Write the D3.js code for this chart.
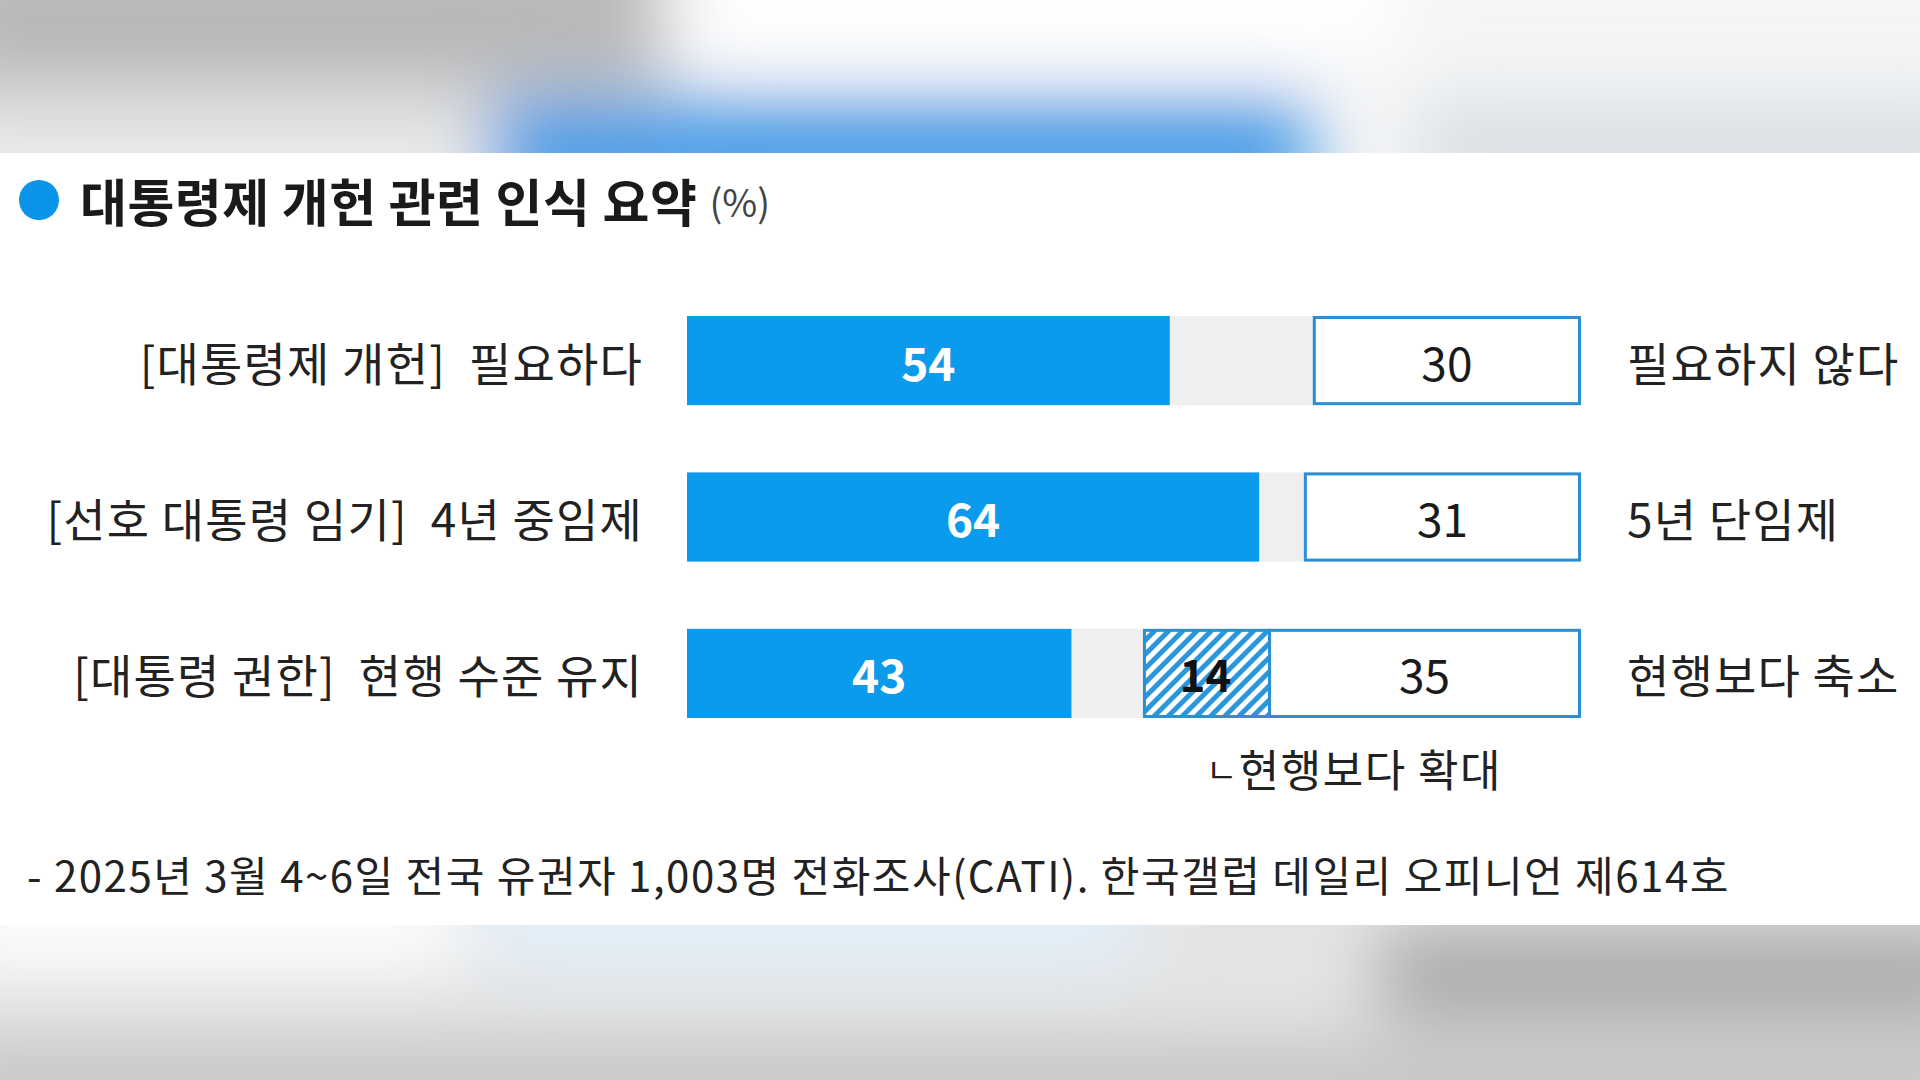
<!DOCTYPE html>
<html>
<head>
<meta charset="utf-8">
<script src="https://cdn.jsdelivr.net/npm/d3@7"></script>
<style>
  html, body { margin: 0; padding: 0; background: #fff; }
  svg { display: block; }
  text { font-family: "Noto Sans CJK KR", "Noto Sans", sans-serif; white-space: pre; }
</style>
</head>
<body>
<script>
// chart data
var leftLabels = ["[대통령제 개헌]  필요하다", "[선호 대통령 임기]  4년 중임제", "[대통령 권한]  현행 수준 유지"];
var rightLabels = ["필요하지 않다", "5년 단임제", "현행보다 축소"];
var mainValues = [54, 64, 43];      // 필요하다 / 4년 중임제 / 현행 수준 유지
var expandValues = [0, 0, 14];      // 현행보다 확대
var otherValues = [30, 31, 35];     // 필요하지 않다 / 5년 단임제 / 현행보다 축소

var title = "대통령제 개헌 관련 인식 요약",
    unit = "(%)",
    note = "ㄴ현행보다 확대",
    footnote = "- 2025년 3월 4~6일 전국 유권자 1,003명 전화조사(CATI). 한국갤럽 데일리 오피니언 제614호";

var width = 1920, height = 1080;
var blue = "#0a9bec", edge = "#2b8fd4";

var svg = d3.select("body").append("svg")
  .attr("width", width)
  .attr("height", height);

var defs = svg.append("defs");
defs.append("filter").attr("id", "blur")
  .attr("x", "-50%").attr("y", "-50%").attr("width", "200%").attr("height", "200%")
  .append("feGaussianBlur").attr("stdDeviation", 35);

var hatch = defs.append("pattern")
  .attr("id", "hatch")
  .attr("patternUnits", "userSpaceOnUse")
  .attr("width", 10).attr("height", 10)
  .attr("patternTransform", "rotate(45)");
hatch.append("rect").attr("width", 10).attr("height", 10).attr("fill", "#ffffff");
hatch.append("rect").attr("width", 5).attr("height", 10).attr("fill", "#2a97dc");

defs.append("clipPath").attr("id", "topband")
  .append("rect").attr("width", width).attr("height", 153);
defs.append("clipPath").attr("id", "botband")
  .append("rect").attr("y", 925).attr("width", width).attr("height", 155);

// blurred surroundings (top and bottom of the screenshot)
var topBand = svg.append("g").attr("clip-path", "url(#topband)");
topBand.append("rect").attr("width", width).attr("height", 153).attr("fill", "#f4f5f6");
var topBlur = topBand.append("g").attr("filter", "url(#blur)");
topBlur.append("rect").attr("x", -60).attr("y", -60).attr("width", 720).attr("height", 150).attr("fill", "#b8b8b8");
topBlur.append("rect").attr("x", -60).attr("y", 90).attr("width", 560).attr("height", 90).attr("fill", "#e6e6e6");
topBlur.append("rect").attr("x", 700).attr("y", -60).attr("width", 700).attr("height", 120).attr("fill", "#ffffff");
topBlur.append("rect").attr("x", 490).attr("y", 100).attr("width", 820).attr("height", 110).attr("fill", "#4a9ce6");
topBlur.append("rect").attr("x", 1420).attr("y", 100).attr("width", 560).attr("height", 100).attr("fill", "#d9dfe4");

var botBand = svg.append("g").attr("clip-path", "url(#botband)");
botBand.append("rect").attr("y", 925).attr("width", width).attr("height", 155).attr("fill", "#e4e4e4");
var botBlur = botBand.append("g").attr("filter", "url(#blur)");
botBlur.append("rect").attr("x", -60).attr("y", 880).attr("width", 520).attr("height", 90).attr("fill", "#ffffff");
botBlur.append("rect").attr("x", 480).attr("y", 880).attr("width", 660).attr("height", 90).attr("fill", "#e3f0fa");
botBlur.append("rect").attr("x", 1380).attr("y", 930).attr("width", 600).attr("height", 90).attr("fill", "#a9a9a9");
botBlur.append("rect").attr("x", -60).attr("y", 1040).attr("width", 2040).attr("height", 100).attr("fill", "#c6c6c6");

// white card
svg.append("rect")
  .attr("x", 0).attr("y", 153)
  .attr("width", width).attr("height", 772)
  .attr("fill", "#ffffff");

// title
svg.append("circle")
  .attr("cx", 39).attr("cy", 200).attr("r", 20)
  .attr("fill", "#0a94ea");

var t = svg.append("text")
  .attr("x", 80).attr("y", 200)
  .attr("dominant-baseline", "central")
  .style("font-size", "51px")
  .style("font-weight", "bold")
  .style("letter-spacing", "0.5px")
  .attr("fill", "#1a1a1a");
t.append("tspan").text(title + " ");
t.append("tspan")
  .style("font-size", "38px")
  .style("font-weight", "normal")
  .style("letter-spacing", "0px")
  .attr("fill", "#444")
  .text(unit);

// scales
var x = d3.scaleLinear().domain([0, 100]).range([687, 1581]);
var y = d3.scaleBand()
  .domain(d3.range(leftLabels.length))
  .range([316, 718])
  .paddingInner(0.43)
  .paddingOuter(0);

var rows = svg.selectAll(".row")
  .data(d3.range(leftLabels.length))
  .enter().append("g")
  .attr("class", "row");

// light gray track (no opinion share)
rows.append("rect")
  .attr("x", x(0))
  .attr("y", function(i) { return y(i); })
  .attr("width", x(100) - x(0))
  .attr("height", y.bandwidth())
  .attr("fill", "#efefef");

// main bar
rows.append("rect")
  .attr("x", x(0))
  .attr("y", function(i) { return y(i); })
  .attr("width", function(i) { return x(mainValues[i]) - x(0); })
  .attr("height", y.bandwidth())
  .attr("fill", blue);

// hatched part (only where there is a value)
rows.filter(function(i) { return expandValues[i] > 0; })
  .append("rect")
  .attr("x", function(i) { return x(100 - otherValues[i] - expandValues[i]) + 1.5; })
  .attr("y", function(i) { return y(i) + 1.5; })
  .attr("width", function(i) { return x(100 - otherValues[i]) - x(100 - otherValues[i] - expandValues[i]); })
  .attr("height", y.bandwidth() - 3)
  .attr("fill", "url(#hatch)")
  .attr("stroke", edge)
  .attr("stroke-width", 3);

// opposite answer box
rows.append("rect")
  .attr("x", function(i) { return x(100 - otherValues[i]) + 1.5; })
  .attr("y", function(i) { return y(i) + 1.5; })
  .attr("width", function(i) { return x(100) - x(100 - otherValues[i]) - 3; })
  .attr("height", y.bandwidth() - 3)
  .attr("fill", "#ffffff")
  .attr("stroke", edge)
  .attr("stroke-width", 3);

// value labels
rows.append("text")
  .attr("x", function(i) { return (x(0) + x(mainValues[i])) / 2; })
  .attr("y", function(i) { return y(i) + y.bandwidth() / 2; })
  .attr("text-anchor", "middle")
  .attr("dominant-baseline", "central")
  .style("font-size", "46px")
  .style("font-weight", "bold")
  .attr("fill", "#ffffff")
  .text(function(i) { return mainValues[i]; });

rows.filter(function(i) { return expandValues[i] > 0; })
  .append("text")
  .attr("x", function(i) { return (x(100 - otherValues[i] - expandValues[i]) + x(100 - otherValues[i])) / 2; })
  .attr("y", function(i) { return y(i) + y.bandwidth() / 2; })
  .attr("text-anchor", "middle")
  .attr("dominant-baseline", "central")
  .style("font-size", "44px")
  .style("font-weight", "bold")
  .attr("fill", "#111")
  .text(function(i) { return expandValues[i]; });

rows.append("text")
  .attr("x", function(i) { return (x(100 - otherValues[i]) + x(100)) / 2; })
  .attr("y", function(i) { return y(i) + y.bandwidth() / 2; })
  .attr("text-anchor", "middle")
  .attr("dominant-baseline", "central")
  .style("font-size", "46px")
  .attr("fill", "#1a1a1a")
  .text(function(i) { return otherValues[i]; });

// row labels
rows.append("text")
  .attr("x", 643)
  .attr("y", function(i) { return y(i) + y.bandwidth() / 2; })
  .attr("text-anchor", "end")
  .attr("dominant-baseline", "central")
  .style("font-size", "46px")
  .style("letter-spacing", "1.2px")
  .attr("fill", "#222")
  .text(function(i) { return leftLabels[i]; });

rows.append("text")
  .attr("x", 1627)
  .attr("y", function(i) { return y(i) + y.bandwidth() / 2; })
  .attr("dominant-baseline", "central")
  .style("font-size", "46px")
  .style("letter-spacing", "1.2px")
  .attr("fill", "#222")
  .text(function(i) { return rightLabels[i]; });

// note under the hatched box
var n = svg.append("text")
  .attr("x", 1206).attr("y", 768)
  .attr("dominant-baseline", "central")
  .style("font-size", "44px")
  .style("letter-spacing", "1.5px")
  .attr("fill", "#222");
n.append("tspan").style("font-size", "34px").text(note.slice(0, 1));
n.append("tspan").text(note.slice(1));

// source footnote
svg.append("text")
  .attr("x", 27).attr("y", 873)
  .attr("dominant-baseline", "central")
  .style("font-size", "42px")
  .style("letter-spacing", "1.5px")
  .attr("fill", "#222")
  .text(footnote);
</script>
</body>
</html>
